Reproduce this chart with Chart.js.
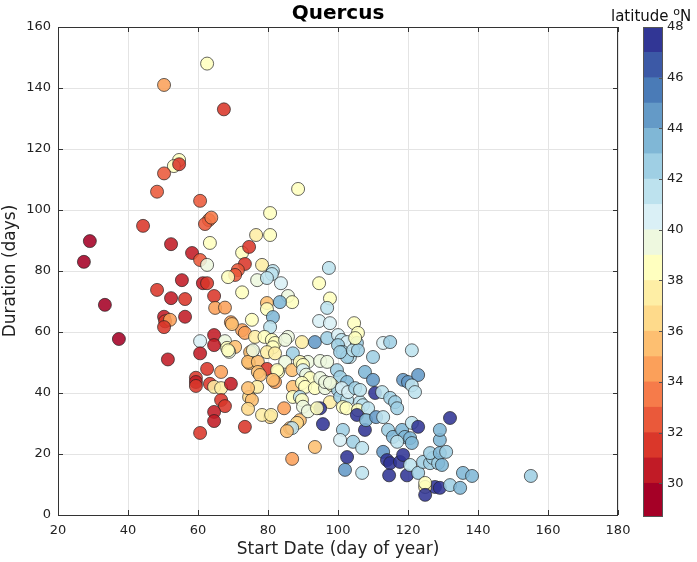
<!DOCTYPE html>
<html>
<head>
<meta charset="utf-8">
<script src="https://cdn.jsdelivr.net/npm/chart.js@4"></script>
<style>
  body { margin: 0; background: #fff; font-family: "DejaVu Sans", sans-serif; }
  #wrap { position: relative; width: 697px; height: 562px; }
  #main { position: absolute; left: 0; top: 0; }
  #cbar { position: absolute; left: 600px; top: 0; }
  .title { position: absolute; left: 238px; width: 200px; top: 0px; text-align: center; font-weight: bold; font-size: 20px; color: #000; }
  .cbtitle { position: absolute; left: 611px; top: 5px; font-size: 15px; color: #111; white-space: nowrap; }
  .cbtitle sup { font-size: 11px; }
</style>
</head>
<body>
<div id="wrap">
  <canvas id="main" width="630" height="562"></canvas>
  <canvas id="cbar" width="97" height="562"></canvas>
  <div class="title">Quercus</div>
  <div class="cbtitle">latitude <sup>o</sup>N</div>
</div>
<script>
// ---- data ----
const startDay = [
  62.6, 50.3, 67.4, 54.6, 53.1, 54.6, 50.3, 48.3, 60.6, 63.1, 62, 63.8, 63.4, 44.3, 29.1, 27.4, 52.3, 58.3, 60.6, 62.6,
  72.6, 74.6, 73.4, 71.4, 70.6, 68.6, 72.6, 76.9, 55.4, 48.3, 52.3, 56.3, 61.4, 62.6, 64.6, 33.4, 64.9, 67.7, 50.3, 50.6,
  52, 50.3, 56.3, 69.4, 75.4, 72.6, 73.4, 37.4, 51.4, 60.6, 64.6, 67.7, 64.6, 68.3, 70.6, 60.6, 68.9, 75.4, 62.6, 66.6,
  59.4, 59.4, 59.4, 63.4, 64.6, 66.6, 69.4, 66.6, 67.7, 64.6, 64.6, 60.6, 73.4, 74.6, 75.4, 74.3, 74.6, 88.6, 80.6, 76.6,
  80.6, 78.3, 81.4, 81.1, 79.7, 83.7, 97.4, 94.6, 79.7, 85.7, 86.9, 83.4, 79.7, 97.7, 96.9, 81.4, 94.6, 97.7, 104.6, 80.6,
  105.7, 76.3, 79, 81.1, 82, 81.4, 85.7, 84.9, 89.7, 93.4, 96.9, 100, 101, 102.6, 100, 101.4, 103.4, 102.6, 105.4, 104.3,
  105.7, 112.9, 114.9, 121.1, 110, 104.9, 74.9, 79.7, 82, 87.1, 89.7, 91.4, 94.9, 96.9, 84.9, 74.3, 77.1, 79.7, 77.1, 77.7,
  82.9, 82.6, 86.9, 82, 81.4, 76.9, 74.3, 89.1, 90, 90, 90.9, 99.7, 100.6, 107.7, 110, 102.6, 118.6, 120, 122.9, 121.1,
  122, 92, 87.1, 89.7, 90.6, 93.4, 96.3, 98.3, 100, 110.6, 112.6, 114.9, 116.3, 116.9, 87.1, 89.1, 89.7, 97.7, 100.6, 102.6,
  101.4, 102.4, 106.3, 107.1, 105.7, 108.6, 105.4, 107.7, 95.7, 94.9, 108, 110.9, 112.9, 80.6, 78.3, 80.9, 84.6, 89.1, 88.3, 86.3,
  86.9, 85.4, 93.4, 86.9, 90, 91.4, 94, 101.4, 100.6, 104.3, 106.9, 102.6, 102, 106.9, 114.3, 115.7, 118.3, 121.1, 122.9, 119.1,
  120.6, 121.1, 116.9, 112.9, 114, 114.9, 117.7, 118.6, 114.6, 119.7, 120.6, 122.9, 124.3, 126.3, 127.1, 128.6, 126.3, 129.1, 129.1, 129.1,
  127.7, 124.9, 124.9, 124.9, 132, 130.9, 129.7, 129.1, 135.7, 138.3, 132, 134.9, 155.1, 69.7, 68.6, 75.7, 100.6, 94.9, 96.3, 97.7,
  101.1, 102.9, 104.9, 106.3
];
const duration = [
  148, 141, 133, 116.4, 114.4, 115, 112, 106, 103, 96.7, 95.4, 97.5, 89.2, 94.8, 89.8, 83, 88.8, 85.9, 83.6, 82,
  86, 87.9, 82.3, 80.3, 78.7, 78, 73, 77, 77, 73.8, 71.1, 70.8, 76, 76, 71.8, 68.9, 67.9, 68, 65, 63.5,
  64, 61.6, 65, 63.2, 64, 60.6, 59.7, 57.7, 51, 57, 59, 57, 55.7, 54.8, 55.1, 53, 53.5, 53.5, 47.9, 46.9,
  45, 43.6, 42.3, 43, 42, 41.6, 43, 37.7, 35.7, 33.8, 30.8, 26.9, 28.9, 38.7, 37.7, 34.8, 49.8, 106.9, 99, 91.8,
  91.8, 82, 80, 79, 77.7, 76, 81, 76, 69.5, 71.8, 69.8, 69.8, 67.5, 71, 67.9, 64.9, 63.6, 62.9, 62.9, 61.6,
  59.7, 58.4, 58.4, 57.4, 56.4, 55, 58.4, 57.4, 56.7, 56.7, 58, 59, 57.4, 56.7, 55.7, 53.4, 51.8, 51.8, 56.4, 54,
  54, 56.4, 56.7, 54, 51.8, 58, 53.4, 53.4, 53, 53, 49.8, 50.2, 50.5, 50.2, 50.2, 50.2, 50.2, 47.9, 46.9, 45.9,
  46.9, 47.5, 47.5, 43.6, 44.3, 42, 41.6, 50.2, 49.2, 47.5, 46, 47.5, 45.2, 46.9, 44.3, 43.6, 44.3, 43.6, 45.9, 42.5,
  40.3, 44.9, 42, 43.3, 42, 41.6, 41.6, 42.6, 41, 40, 40.3, 38.4, 37, 35, 38.7, 38.7, 37.7, 37, 38.7, 37.7,
  35.4, 35, 37, 36, 34.4, 35, 32.8, 27.9, 29.8, 35, 31.1, 32.1, 32.1, 32.1, 32.8, 32.8, 35, 31.1, 30.2, 28.5,
  28.5, 27.5, 22.3, 18.4, 35.5, 34, 35, 27.9, 24.6, 24, 22, 19, 14.8, 13.8, 27.9, 25.6, 27.9, 30.2, 28.9, 25.6,
  25.2, 23.6, 24, 20.7, 18, 17, 17.4, 19.7, 13, 13, 16.4, 13.8, 17.4, 17, 18.7, 17, 20.3, 20.3, 24.6, 27.9,
  9.2, 9.2, 10.5, 6.6, 31.8, 20.7, 16.4, 8.9, 13.8, 12.8, 9.8, 8.9, 12.8, 62.6, 54, 54, 53.4, 44.9, 43.6, 43.3,
  41.6, 40.3, 41.6, 41
];
const latitude = [
  38.5, 34, 31, 38.5, 38.5, 31.5, 32, 32, 32, 33, 32.5, 33, 38.5, 31, 29.5, 29.5, 30.5, 30.5, 32, 39.5,
  38.5, 31.5, 31.5, 32, 32, 38, 38.5, 39.5, 30.5, 31, 30.5, 31, 30, 31.5, 31.5, 29.5, 34, 34.5, 30.5, 31,
  34.5, 31, 30.5, 34.5, 38, 34.5, 34.5, 29.5, 30.5, 40, 30.5, 39.5, 30, 38, 35, 30, 39, 39.5, 31.5, 34.5,
  31, 30.5, 31, 31.5, 37.5, 37, 30.5, 31, 31.5, 30.5, 30, 31.5, 31, 36, 35.5, 36, 35, 38, 38, 37.5,
  38, 37.5, 41.5, 41, 41.5, 40, 41.5, 38.5, 35.5, 39.5, 38.5, 43.5, 38, 38.5, 41.5, 43.5, 40, 40, 38.5, 41.5,
  38.5, 37, 38, 38, 38.5, 38, 39, 39.5, 37.5, 44.5, 42.5, 40, 41, 40.5, 42, 42, 41.5, 42, 42, 41.5,
  42, 40.5, 42.5, 41.5, 42, 38.5, 35, 37.5, 37, 42.5, 36, 39.5, 39, 39, 39.5, 35, 35.5, 31.5, 35, 35,
  38, 38.5, 35.5, 34.5, 35, 37.5, 35.5, 38.5, 38.5, 40, 39.5, 42, 42, 43.5, 44, 43.5, 44, 44, 44.5, 41.5,
  41.5, 38, 35, 38.5, 38.5, 38, 39.5, 38.5, 42, 47.5, 41.5, 42, 42, 42, 38, 41, 38.5, 37.5, 42, 41.5,
  38, 38.5, 41.5, 41.5, 38.5, 41, 47.5, 47.5, 47.5, 47, 43.5, 44, 41.5, 36.5, 37, 37, 34, 35.5, 36, 35.5,
  41.5, 35.5, 35.5, 34.5, 39, 39, 38.5, 42, 40, 42, 41.5, 47.5, 44, 41.5, 42, 43, 43.5, 41.5, 47.5, 43,
  43, 43, 41.5, 44, 47.5, 47, 47.5, 47.5, 47.5, 47.5, 41.5, 42, 42, 42, 42.5, 42.5, 42, 43.5, 43.5, 43,
  47.5, 37.5, 38, 47.5, 47.5, 42, 43.5, 47.5, 43.5, 43.5, 42, 43.5, 42.5, 35, 38.5, 39, 42, 39, 39.5, 39,
  40, 40.5, 42, 41.5
];

const xTicks = [20, 40, 60, 80, 100, 120, 140, 160, 180];
const yTicks = [0, 20, 40, 60, 80, 100, 120, 140, 160];
const cbarTicks = [30, 32, 34, 36, 38, 40, 42, 44, 46, 48];
const bandEdges = [28.67, 30, 31, 32, 33, 34, 35, 36, 37, 38, 39, 40, 41, 42, 43, 44, 45, 46, 47, 48];
const bandColors = [
  '#a50026', '#c11b26', '#da372a', '#ea593a', '#f67b4a', '#fba05a', '#fdbf71', '#feda8b', '#feeea5', '#ffffbf',
  '#eef8df', '#daf0f6', '#bde2ee', '#9fcfe4', '#80b7d6', '#649ac7', '#4a7bb7', '#3c59a6', '#313695'
];

function latColor(lat) {
  let i = Math.floor(lat) - 29;
  if (i < 0) i = 0;
  if (i > bandColors.length - 1) i = bandColors.length - 1;
  return bandColors[i];
}

const points = startDay.map((x, i) => ({ x, y: duration[i] }));
const fillColors = latitude.map(l => latColor(l) + 'e0');

const font = { family: 'DejaVu Sans', size: 13 };

// box around the plot area with inward ticks on all four sides
const boxPlugin = {
  id: 'box',
  afterDraw(chart) {
    const a = chart.chartArea, c = chart.ctx;
    const sx = chart.scales.x, sy = chart.scales.y;
    c.save();
    c.strokeStyle = '#333';
    c.lineWidth = 1;
    c.strokeRect(a.left + 0.5, a.top + 0.5, a.right - a.left - 1, a.bottom - a.top);
    c.beginPath();
    xTicks.forEach(v => {
      const px = Math.round(sx.getPixelForValue(v)) + 0.5;
      c.moveTo(px, a.bottom); c.lineTo(px, a.bottom - 5);
      c.moveTo(px, a.top); c.lineTo(px, a.top + 5);
    });
    yTicks.forEach(v => {
      const py = Math.round(sy.getPixelForValue(v)) + 0.5;
      c.moveTo(a.left, py); c.lineTo(a.left + 5, py);
      c.moveTo(a.right, py); c.lineTo(a.right - 5, py);
    });
    c.stroke();
    c.restore();
  }
};

new Chart(document.getElementById('main'), {
  type: 'scatter',
  data: {
    datasets: [{
      data: points,
      backgroundColor: fillColors,
      borderColor: 'rgba(30,30,30,0.85)',
      borderWidth: 0.8,
      pointRadius: 6.5,
      pointHoverRadius: 6.5
    }]
  },
  options: {
    responsive: false,
    animation: false,
    layout: { padding: { top: 27, right: 12, left: 0, bottom: 0 } },
    plugins: { legend: { display: false }, tooltip: { enabled: false } },
    scales: {
      x: {
        type: 'linear', min: 20, max: 180,
        afterBuildTicks: s => { s.ticks = xTicks.map(v => ({ value: v })); },
        afterFit: s => { s.height = 47; s.paddingLeft = 0; s.paddingRight = 0; },
        grid: { color: '#e4e4e4', drawTicks: false },
        border: { display: false },
        ticks: { font, color: '#222', padding: 8 },
        title: { display: true, text: 'Start Date (day of year)', font: { family: 'DejaVu Sans', size: 17 }, color: '#222', padding: { top: 0, bottom: 2 } }
      },
      y: {
        type: 'linear', min: 0, max: 160,
        afterBuildTicks: s => { s.ticks = yTicks.map(v => ({ value: v })); },
        afterFit: s => { s.width = 58; s.paddingTop = 0; s.paddingBottom = 0; },
        grid: { color: '#e4e4e4', drawTicks: false },
        border: { display: false },
        ticks: { font, color: '#222', padding: 7 },
        title: { display: true, text: 'Duration (days)', font: { family: 'DejaVu Sans', size: 17 }, color: '#222', padding: { top: 0, bottom: 0 } }
      }
    }
  },
  plugins: [boxPlugin]
});

// colour bar
const bandSets = bandColors.map((col, i) => ({
  data: [[bandEdges[i], bandEdges[i + 1]]],
  backgroundColor: col,
  borderWidth: 0,
  barPercentage: 1,
  categoryPercentage: 1
}));

const cbarTickPlugin = {
  id: 'cbarTicks',
  afterDraw(chart) {
    const a = chart.chartArea, c = chart.ctx, sy = chart.scales.y;
    c.save();
    c.strokeStyle = '#555';
    c.lineWidth = 1;
    c.strokeRect(a.left + 0.5, a.top + 0.5, a.right - a.left - 1, a.bottom - a.top - 1);
    c.beginPath();
    cbarTicks.forEach(v => {
      const py = Math.round(sy.getPixelForValue(v)) + 0.5;
      c.moveTo(a.right, py); c.lineTo(a.right - 4, py);
    });
    c.stroke();
    c.restore();
  }
};

new Chart(document.getElementById('cbar'), {
  type: 'bar',
  data: { labels: ['lat'], datasets: bandSets },
  options: {
    responsive: false,
    animation: false,
    layout: { padding: { top: 27, right: 4, left: 43, bottom: 45 } },
    plugins: { legend: { display: false }, tooltip: { enabled: false } },
    scales: {
      x: { display: false, stacked: true },
      y: {
        position: 'right', min: 28.67, max: 48,
        afterBuildTicks: s => { s.ticks = cbarTicks.map(v => ({ value: v })); },
        afterFit: s => { s.width = 30; s.paddingTop = 0; s.paddingBottom = 0; },
        grid: { drawOnChartArea: false, drawTicks: false },
        border: { display: false },
        ticks: { font, color: '#222', padding: 4 }
      }
    }
  },
  plugins: [cbarTickPlugin]
});
</script>
</body>
</html>
